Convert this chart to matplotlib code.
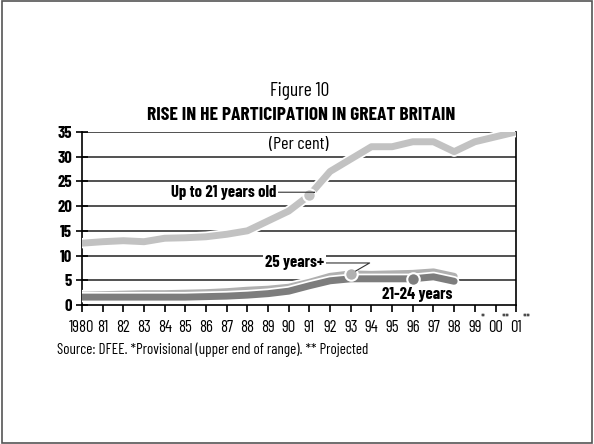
import matplotlib.pyplot as plt
import matplotlib.patheffects as pe
from matplotlib.patches import Rectangle
import numpy as np

plt.rcParams['font.family'] = ['Barlow Condensed', 'Archivo Narrow', 'Liberation Sans', 'DejaVu Sans']

years = np.arange(1980, 2002)
tick_labels = ["1980", "81", "82", "83", "84", "85", "86", "87", "88", "89", "90",
               "91", "92", "93", "94", "95", "96", "97", "98", "99", "00", "01"]
stars = {1999: "*", 2000: "**", 2001: "**"}

up_to_21 = [12.5, 12.8, 13.0, 12.8, 13.5, 13.6, 13.8, 14.3, 15.0, 17.0, 19.0,
            22.2, 27.0, 29.5, 32.0, 32.0, 33.0, 33.0, 31.0, 33.0, 34.0, 35.0]
yrs_short = np.arange(1980, 1999)
over_25 = [2.0, 2.1, 2.2, 2.3, 2.3, 2.4, 2.5, 2.7, 3.0, 3.2, 3.6,
           4.6, 5.8, 6.3, 6.2, 6.3, 6.4, 6.7, 5.8]
age_21_24 = [1.6, 1.6, 1.6, 1.6, 1.6, 1.6, 1.7, 1.8, 2.0, 2.3, 2.8,
             3.9, 4.9, 5.3, 5.3, 5.3, 5.3, 5.7, 4.8]

fig = plt.figure(figsize=(5.94, 4.44), dpi=100)
fig.patches.append(Rectangle((0.003, 0.003), 0.994, 0.994, transform=fig.transFigure,
                             fill=False, edgecolor="#555555", linewidth=1.2))
ax = fig.add_axes([0.138, 0.313, 0.731, 0.39])

halo = [pe.Stroke(linewidth=7.5, foreground="white"), pe.Normal()]
ax.plot(years, up_to_21, color="#c2c2c2", lw=5, solid_capstyle="round", path_effects=halo, zorder=3)
ax.plot(yrs_short, over_25, color="#b0b0b0", lw=5, solid_capstyle="round", path_effects=halo, zorder=3)
ax.plot(yrs_short, age_21_24, color="#7d7d7d", lw=5, solid_capstyle="round", path_effects=halo, zorder=4)

# markers at labelled points
ax.plot(1991, up_to_21[11], 'o', ms=9, color="#c2c2c2", mec="white", mew=1.5, zorder=5)
ax.plot(1993, over_25[13], 'o', ms=9, color="#b0b0b0", mec="white", mew=1.5, zorder=5)
ax.plot(1996, age_21_24[16], 'o', ms=9, color="#7d7d7d", mec="white", mew=1.5, zorder=5)

for v in range(5, 40, 5):
    ax.plot([1980, 2001], [v, v], color="#333333", lw=1.2, zorder=1)

ax.set_xlim(1980, 2001)
ax.set_ylim(0, 35)
ax.spines["top"].set_visible(False)
for s in ["right", "left", "bottom"]:
    ax.spines[s].set_linewidth(1.2)

ax.set_xticks(years)
ax.set_xticklabels(tick_labels, fontsize=12)
ax.set_yticks(range(0, 40, 5))
ax.set_yticklabels([str(v) for v in range(0, 40, 5)], fontsize=12, fontweight="bold")
ax.tick_params(axis="x", direction="out", length=5, width=1.2, pad=6)
ax.tick_params(axis="y", direction="inout", length=8, width=1.2, pad=3)
for yr, s in stars.items():
    ax.annotate(s, (yr, 0), xytext=(4.5, -10), textcoords="offset points",
                fontsize=8, ha="left", va="center", annotation_clip=False)

box = dict(facecolor="white", edgecolor="none", pad=1.5)
leader = dict(arrowstyle="-", color="#333333", lw=0.8,
              connectionstyle="angle,angleA=0,angleB=30,rad=0", shrinkA=0, shrinkB=4)
ax.annotate("Up to 21 years old", xy=(1991, up_to_21[11]), xytext=(1989.4, 22.8),
            fontsize=12, fontweight="bold", ha="right", va="center", bbox=box,
            arrowprops=leader, zorder=6)
ax.annotate("25 years+", xy=(1993, over_25[13]), xytext=(1991.7, 8.5),
            fontsize=12, fontweight="bold", ha="right", va="center", bbox=box,
            arrowprops=leader, zorder=6)
ax.text(1996.2, 2.2, "21-24 years", fontsize=12, fontweight="bold", ha="center",
        va="center", bbox=box, zorder=6)
ax.text(1990.5, 32.4, "(Per cent)", fontsize=13, ha="center", va="center", bbox=box, zorder=6)

fig.text(0.505, 0.795, "Figure 10", fontsize=14, ha="center", va="center")
fig.text(0.507, 0.739, "RISE IN HE PARTICIPATION IN GREAT BRITAIN", fontsize=14,
         fontweight="bold", ha="center", va="center")
fig.text(0.096, 0.212, "Source: DFEE. *Provisional (upper end of range). ** Projected",
         fontsize=10.8, ha="left", va="center")

fig.savefig("out.png", dpi=100)
